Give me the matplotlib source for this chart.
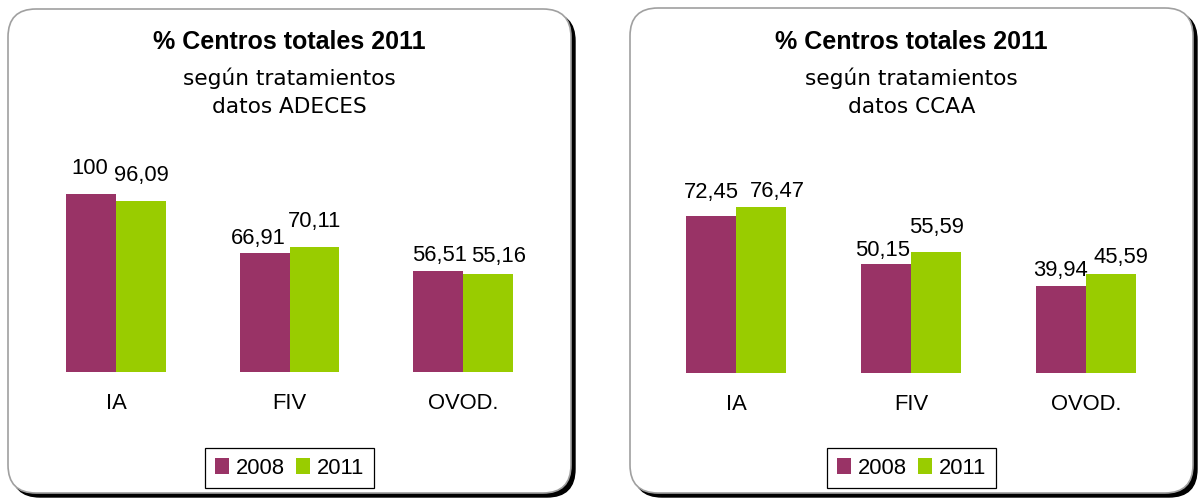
import matplotlib
matplotlib.use('Agg')
import matplotlib.pyplot as plt
from matplotlib.patches import FancyBboxPatch, Patch
import numpy as np

# ---------------- data ----------------
categories = ['IA', 'FIV', 'OVOD.']
series_names = ['2008', '2011']
adeces_2008 = [100, 66.91, 56.51]
adeces_2011 = [96.09, 70.11, 55.16]
ccaa_2008 = [72.45, 50.15, 39.94]
ccaa_2011 = [76.47, 55.59, 45.59]
title_main = '% Centros totales 2011'
subtitle = 'según tratamientos'
source_adeces = 'datos ADECES'
source_ccaa = 'datos CCAA'

# ---------------- style ----------------
W, H = 1203, 500
C2008 = '#993366'
C2011 = '#99CC00'
LABEL_FONT = 'Liberation Sans'
FS = 15.8

def fmt(v):
    return f'{v:g}'.replace('.', ',')

def rect(x0, y0, x1, y1):
    return [x0 / W, 1 - y1 / H, (x1 - x0) / W, (y1 - y0) / H]

fig = plt.figure(figsize=(W / 100, H / 100), dpi=100)
fig.patch.set_facecolor('white')

bg = fig.add_axes([0, 0, 1, 1], zorder=0)
bg.set_xlim(0, W)
bg.set_ylim(0, H)
bg.axis('off')

panels = [
    dict(box=(8, 9, 571, 493), ax=(29.25, 158.0, 549.75, 372.0), ymax=120,
         v08=adeces_2008, v11=adeces_2011, src=source_adeces,
         off08=[(-1, 27), (-6, 16), (2, 18)], off11=[(0, 27), (0, 27), (11, 19)]),
    dict(box=(630, 8, 1193, 493), ax=(648.5, 156.5, 1173.5, 372.5), ymax=100,
         v08=ccaa_2008, v11=ccaa_2011, src=source_ccaa,
         off08=[(1, 26), (-3, 16), (0, 18)], off11=[(16, 18), (0, 27), (10, 19)]),
]

bw = 0.288
for p in panels:
    x0, y0, x1, y1 = p['box']
    w, h = x1 - x0, y1 - y0
    shadow = FancyBboxPatch((x0 + 4, H - y1 - 4), w, h,
                            boxstyle='round,pad=0,rounding_size=28',
                            facecolor='black', edgecolor='black', lw=1, zorder=1)
    box = FancyBboxPatch((x0, H - y1), w, h,
                         boxstyle='round,pad=0,rounding_size=28',
                         facecolor='white', edgecolor='#a0a0a0', lw=1.2, zorder=2)
    bg.add_patch(shadow)
    bg.add_patch(box)
    cx = (x0 + x1) / 2
    bg.text(cx, H - 49, title_main, ha='center', va='baseline', fontsize=18,
            fontweight='bold', family=LABEL_FONT, zorder=3)
    bg.text(cx, H - 85, subtitle, ha='center', va='baseline', fontsize=15.6,
            family='DejaVu Sans', zorder=3)
    bg.text(cx, H - 113, p['src'], ha='center', va='baseline', fontsize=15.6,
            family='DejaVu Sans', zorder=3)

    ax = fig.add_axes(rect(*p['ax']), zorder=1)
    ax.patch.set_alpha(0)
    x = np.arange(len(categories))
    ax.bar(x - bw / 2, p['v08'], bw, color=C2008, label=series_names[0])
    ax.bar(x + bw / 2, p['v11'], bw, color=C2011, label=series_names[1])
    ax.set_xlim(-0.5, len(categories) - 0.5)
    ax.set_ylim(0, p['ymax'])
    for s in ax.spines.values():
        s.set_visible(False)
    ax.set_xticks([])
    ax.set_yticks([])
    for i, (v, (dx, dy)) in enumerate(zip(p['v08'], p['off08'])):
        ax.annotate(fmt(v), xy=(i - bw / 2, v), xytext=(dx, dy - 7.5),
                    textcoords='offset pixels', ha='center', va='baseline',
                    fontsize=FS, family=LABEL_FONT, annotation_clip=False)
    for i, (v, (dx, dy)) in enumerate(zip(p['v11'], p['off11'])):
        ax.annotate(fmt(v), xy=(i + bw / 2, v), xytext=(dx, dy - 7.5),
                    textcoords='offset pixels', ha='center', va='baseline',
                    fontsize=FS, family=LABEL_FONT, annotation_clip=False)
    for i, c in enumerate(categories):
        ax.annotate(c, xy=(i, 0), xytext=(0, -37), textcoords='offset pixels',
                    ha='center', va='baseline', fontsize=FS, family=LABEL_FONT,
                    annotation_clip=False)
    handles = [Patch(facecolor=C2008, label=series_names[0]),
               Patch(facecolor=C2011, label=series_names[1])]
    leg = ax.legend(handles=handles, loc='center',
                    bbox_to_anchor=(cx / W, 1 - 468 / H),
                    bbox_transform=fig.transFigure, ncol=2, frameon=True,
                    fancybox=False, edgecolor='black', framealpha=1,
                    handlelength=0.65, handleheight=0.7, handletextpad=0.3,
                    columnspacing=0.5, borderpad=0.45, borderaxespad=0,
                    prop={'family': LABEL_FONT, 'size': FS})
    leg.get_frame().set_linewidth(0.9)

fig.savefig('out.png', dpi=100, facecolor='white')
